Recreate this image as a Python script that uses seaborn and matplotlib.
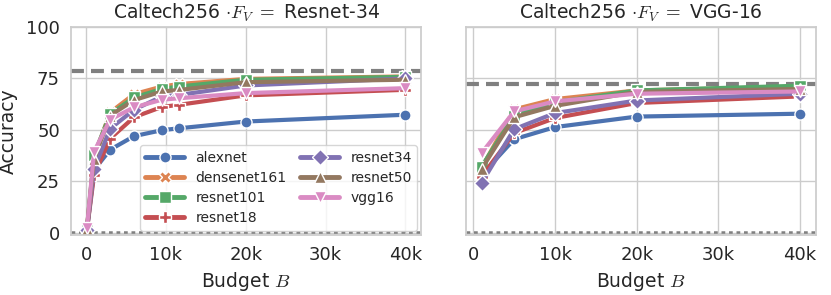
"""Caltech256 accuracy vs. labelling budget for two fixed feature extractors."""

import matplotlib

matplotlib.use("Agg")

import matplotlib.pyplot as plt
import pandas as pd
import seaborn as sns

MODELS = ["alexnet", "densenet161", "resnet101", "resnet18", "resnet34", "resnet50", "vgg16"]
MARKERS = ["o", "X", "s", "P", "D", "^", "v"]

# left panel: F_V = Resnet-34
BUDGET_RESNET = [100, 1000, 3000, 6000, 9500, 11600, 20000, 40000]
ACC_RESNET = {
    "alexnet": [1.5, 30.6, 40.4, 47.0, 49.9, 50.8, 54.1, 57.4],
    "densenet161": [2.0, 37.0, 58.5, 67.4, 71.1, 72.3, 74.8, 76.0],
    "resnet101": [2.0, 37.9, 57.7, 65.8, 69.9, 71.1, 74.4, 75.8],
    "resnet18": [1.5, 28.2, 45.8, 56.2, 61.2, 62.2, 66.8, 69.5],
    "resnet34": [1.5, 31.0, 50.6, 59.8, 66.3, 67.0, 71.6, 75.0],
    "resnet50": [1.8, 36.0, 57.0, 64.5, 68.7, 69.4, 73.2, 74.4],
    "vgg16": [2.3, 39.5, 55.0, 61.0, 64.7, 65.4, 67.9, 70.3],
}
UPPER_RESNET = 78.6

# right panel: F_V = VGG-16
BUDGET_VGG = [1000, 5000, 10000, 20000, 40000]
ACC_VGG = {
    "alexnet": [28.2, 45.5, 51.4, 56.5, 57.9],
    "densenet161": [31.5, 60.0, 65.0, 69.2, 71.0],
    "resnet101": [32.2, 57.0, 63.5, 69.2, 71.5],
    "resnet18": [27.4, 48.5, 55.8, 63.1, 66.3],
    "resnet34": [24.2, 50.4, 58.2, 64.3, 67.6],
    "resnet50": [31.0, 56.2, 61.7, 68.5, 69.9],
    "vgg16": [38.7, 59.0, 63.9, 67.6, 68.7],
}
UPPER_VGG = 72.3

CHANCE = 100 / 256

XTICKS = [0, 10000, 20000, 30000, 40000]
XTICK_LABELS = ["0", "10k", "20k", "30k", "40k"]
YTICKS = [0, 25, 50, 75, 100]


def to_frame(budgets, accs):
    rows = []
    for model in MODELS:
        for b, a in zip(budgets, accs[model]):
            rows.append({"budget": b, "accuracy": a, "model": model})
    return pd.DataFrame(rows)


def draw_panel(ax, df, upper, title):
    ax.axhline(upper, color="#808080", lw=3, ls=(0, (3.1, 1.7)), zorder=1)
    ax.axhline(CHANCE, color="#808080", lw=1.8, ls=(0, (1.5, 1.5)), zorder=1)
    sns.lineplot(
        data=df, x="budget", y="accuracy", hue="model", style="model",
        hue_order=MODELS, style_order=MODELS, markers=MARKERS, dashes=False,
        palette="deep", linewidth=3, markersize=8, markeredgecolor="white",
        markeredgewidth=1, ax=ax,
    )
    ax.set_title(title, fontsize=13.5)
    ax.set_xlabel("Budget $B$", fontsize=13.5)
    ax.set_xticks(XTICKS)
    ax.set_xticklabels(XTICK_LABELS)
    ax.set_yticks(YTICKS)
    ax.set_ylim(-1, 100)
    ax.tick_params(labelsize=13, pad=2)


def main():
    sns.set_theme(style="whitegrid")
    plt.rcParams["font.family"] = ["DejaVu Sans"]
    plt.rcParams["mathtext.fontset"] = "cm"

    fig, (ax1, ax2) = plt.subplots(1, 2, figsize=(8.31, 2.95), dpi=100, sharey=True)
    fig.subplots_adjust(left=71 / 831, right=816 / 831, top=1 - 27 / 295,
                        bottom=1 - 235 / 295, wspace=0.126)

    draw_panel(ax1, to_frame(BUDGET_RESNET, ACC_RESNET), UPPER_RESNET,
               r"Caltech256 $\cdot F_V\;=$ Resnet-34")
    draw_panel(ax2, to_frame(BUDGET_VGG, ACC_VGG), UPPER_VGG,
               r"Caltech256 $\cdot F_V\;=$ VGG-16")

    ax1.set_ylabel("Accuracy", fontsize=13.5, labelpad=6)
    ax2.set_ylabel("")
    ax2.get_legend().remove()

    handles, labels = ax1.get_legend_handles_labels()
    for h in handles:
        h.set_linewidth(3.5)
    ax1.legend(handles, labels, ncol=2, loc="lower right", fontsize=10,
               handlelength=2.8, columnspacing=1.0, labelspacing=0.45,
               borderaxespad=0.3, frameon=True)

    fig.savefig("out.png", dpi=100)
    plt.close(fig)


if __name__ == "__main__":
    main()
